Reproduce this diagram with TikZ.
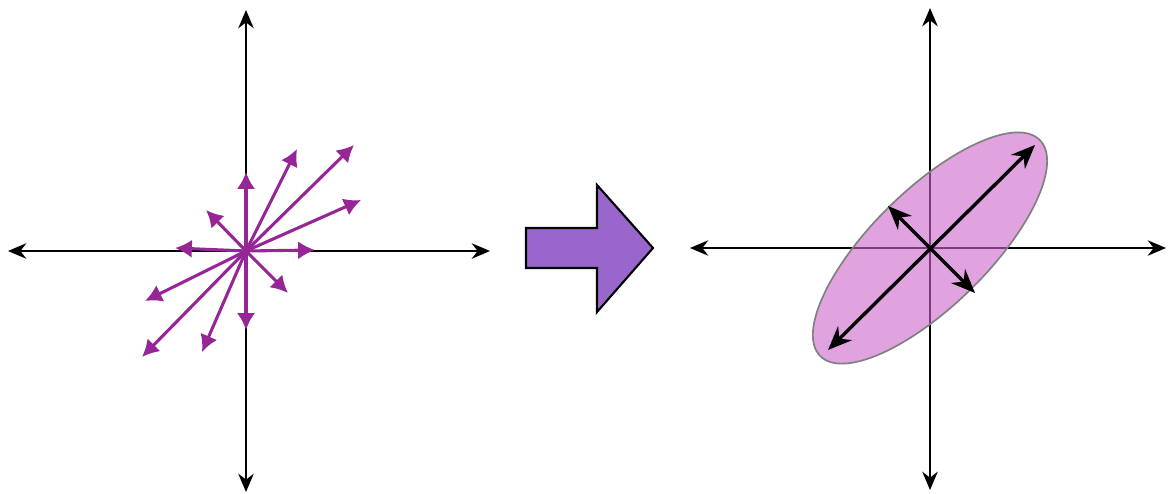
\documentclass[tikz,border=0pt]{standalone}
\usepackage{tikz}
\usetikzlibrary{calc,arrows.meta}
\definecolor{vecpurple}{RGB}{150,38,150}
\definecolor{bigarrow}{RGB}{153,102,204}
\definecolor{ellfill}{RGB}{204,102,204}
\tikzset{
  axis/.style={line width=1.5pt,{Stealth[length=13pt,width=11pt]}-{Stealth[length=13pt,width=11pt]}},
  vec/.style={vecpurple,line width=2.2pt,-{Latex[length=12pt,width=13pt]}},
  pvec/.style={line width=2.4pt,{Stealth[length=17pt,width=14pt]}-{Stealth[length=17pt,width=14pt]}}
}
\begin{document}
\begin{tikzpicture}[x=0.025cm,y=-0.025cm]
	\useasboundingbox (0,0) rectangle (1168,493);
	%LEFT AXES
	\coordinate (O) at (246,251);
	\coordinate (xl) at (8,251);
	\coordinate (xr) at (490,251);
	\coordinate (yt) at (246,10);
	\coordinate (yb) at (246,492);
	\draw[axis] (xl) -- (xr);
	\draw[axis] (yt) -- (yb);
	%VECTORS
	\foreach \p in {(246,172),(297,149),(354,145),(361,200),(315,250),(288,293),
	                (246,330),(202,352),(142,357),(145,301),(175,248),(206,210)}
		\draw[vec] (O) -- \p;
	%BIG ARROW
	\draw[fill=bigarrow,line width=1.5pt,line join=miter]
		(526,228) -- (597,228) -- (597,185) -- (653,248) -- (597,312)
		-- (597,268) -- (526,268) -- cycle;
	%RIGHT AXES
	\coordinate (O') at (930,248);
	\coordinate (xl') at (690,248);
	\coordinate (xr') at (1166,248);
	\coordinate (yt') at (930,8);
	\coordinate (yb') at (930,490);
	\draw[axis] (xl') -- (xr');
	\draw[axis] (yt') -- (yb');
	%ELLIPSE
	\draw[gray,line width=1.2pt,fill=ellfill,fill opacity=0.6,rotate around={44.5:(O')}]
		(O') ellipse (154 and 58);
	\coordinate (a1) at (1035,145);
	\coordinate (a2) at (828,350);
	\coordinate (b1) at (888,206);
	\coordinate (b2) at (975,293);
	\draw[pvec] (a2) -- (a1);
	\draw[pvec] (b1) -- (b2);
\end{tikzpicture}
\end{document}
